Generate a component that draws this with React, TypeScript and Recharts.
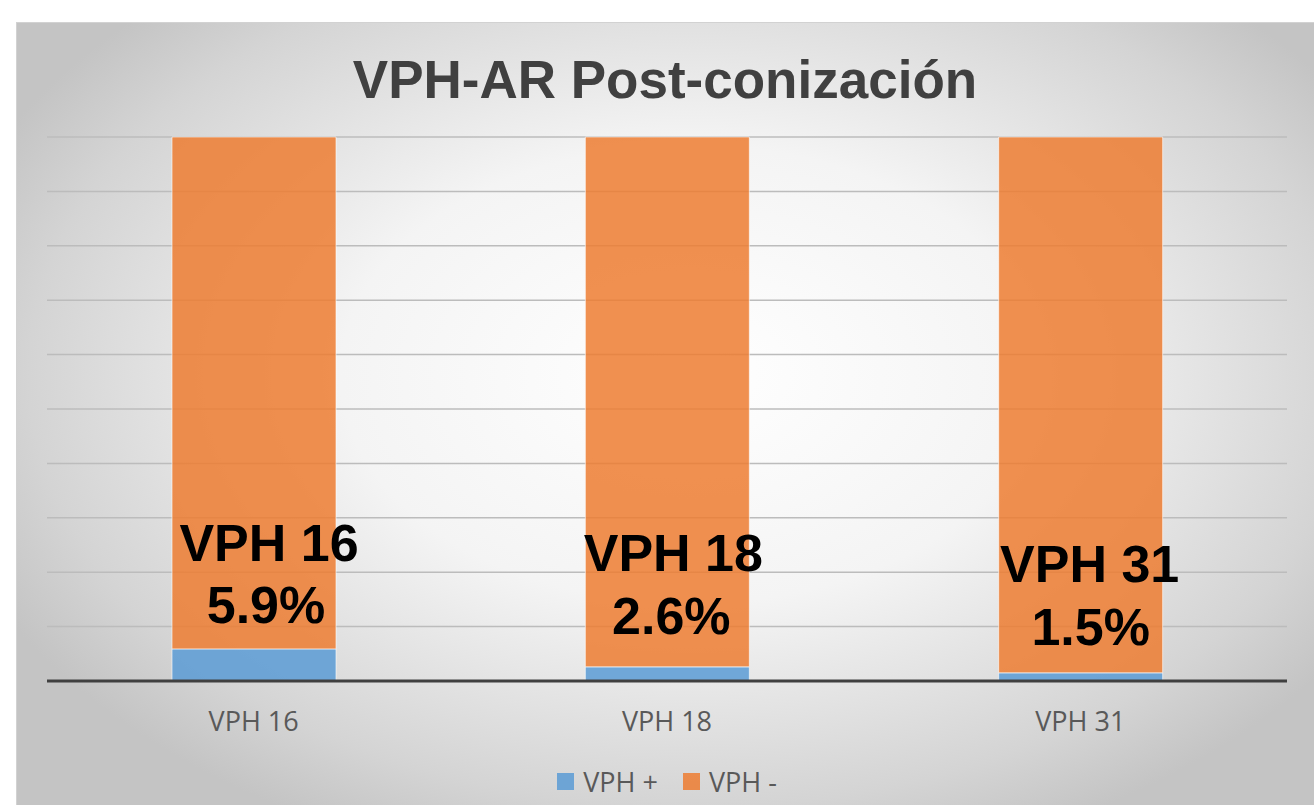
import { Bar, BarChart, CartesianGrid, LabelList, Legend, XAxis, YAxis } from "recharts";

const categorias = ["VPH 16", "VPH 18", "VPH 31"];
const vphPositivo = [5.9, 2.6, 1.5];
const vphNegativo = [94.1, 97.4, 98.5];
const porcentajes = ["5.9%", "2.6%", "1.5%"];
const yTicks = [0, 10, 20, 30, 40, 50, 60, 70, 80, 90, 100];

const datos = categorias.map((c, i) => ({
  nombre: c,
  positivo: vphPositivo[i],
  negativo: vphNegativo[i],
}));

// desplazamiento de las etiquetas grandes respecto al fondo del tramo naranja
const desplaz = [
  { dx1: 15, dy1: -88, dx2: 12, dy2: -26 },
  { dx1: 6, dy1: -96, dx2: 4, dy2: -33 },
  { dx1: 9, dy1: -91, dx2: 10, dy2: -28 },
];

const AZUL = "#5B9BD5";
const NARANJA = "#ED7D31";

function EtiquetaGrande(props: any) {
  const vb = props.viewBox ?? props;
  const { x, y, width, height } = vb;
  const i = props.index as number;
  const d = desplaz[i];
  const cx = x + width / 2;
  const fondo = y + height;
  const estilo = {
    fontFamily: "'Liberation Sans', Arial, sans-serif",
    fontWeight: 700,
    fontSize: 52,
    fill: "#000",
  } as const;
  return (
    <g>
      <text x={cx + d.dx1} y={fondo + d.dy1} textAnchor="middle" {...estilo}>
        {categorias[i]}
      </text>
      <text x={cx + d.dx2} y={fondo + d.dy2} textAnchor="middle" {...estilo}>
        {porcentajes[i]}
      </text>
    </g>
  );
}

function Leyenda({ payload }: any) {
  return (
    <div style={{ display: "flex", justifyContent: "center", gap: 25, fontFamily: "'Open Sans', sans-serif", fontSize: 27, color: "#595959" }}>
      {(payload ?? []).map((p: any) => (
        <div key={p.value} style={{ display: "flex", alignItems: "center", gap: 9 }}>
          <span style={{ width: 17, height: 17, background: p.color, opacity: 0.85, display: "inline-block" }} />
          <span>{p.value}</span>
        </div>
      ))}
    </div>
  );
}

export default function App() {
  return (
    <div style={{ position: "absolute", left: 0, top: 0, width: 1314, height: 805, background: "#fff", overflow: "hidden" }}>
      <div
        style={{
          position: "absolute",
          left: 16,
          top: 22,
          width: 1298,
          height: 783,
          background: "radial-gradient(ellipse 60% 65% at 52% 45%, #ffffff 0%, #f4f4f4 45%, #d4d4d4 85%, #c4c4c4 100%)",
          boxShadow: "inset 1px 1px 0 #d2d2d2",
        }}
      >
        <div
          style={{
            position: "absolute",
            left: 0,
            top: 28,
            width: "100%",
            textAlign: "center",
            fontFamily: "'Liberation Sans', Arial, sans-serif",
            fontWeight: 700,
            fontSize: 53,
            color: "#404040",
            lineHeight: "60px",
          }}
        >
          VPH-AR Post-conización
        </div>
        <BarChart width={1298} height={783} data={datos} margin={{ top: 115, right: 27, left: 31, bottom: 5 }}>
          <CartesianGrid vertical={false} stroke="#bcbcbc" strokeWidth={1.5} />
          <XAxis
            dataKey="nombre"
            axisLine={{ stroke: "#404040", strokeWidth: 3 }}
            tickLine={false}
            tickSize={0}
            tickMargin={31}
            height={82}
            tick={{ fill: "#595959", fontSize: 27, fontFamily: "'Open Sans', sans-serif" }}
          />
          <YAxis hide domain={[0, 100]} ticks={yTicks} />
          <Legend verticalAlign="bottom" content={<Leyenda />} />
          <Bar
            dataKey="positivo"
            name="VPH +"
            stackId="a"
            fill={AZUL}
            fillOpacity={0.85}
            stroke="#ffffff"
            strokeOpacity={0.6}
            barSize={164}
            isAnimationActive={false}
          />
          <Bar
            dataKey="negativo"
            name="VPH -"
            stackId="a"
            fill={NARANJA}
            fillOpacity={0.85}
            stroke="#ffffff"
            strokeOpacity={0.6}
            barSize={164}
            isAnimationActive={false}
          >
            <LabelList dataKey="negativo" content={<EtiquetaGrande />} />
          </Bar>
        </BarChart>
      </div>
    </div>
  );
}
